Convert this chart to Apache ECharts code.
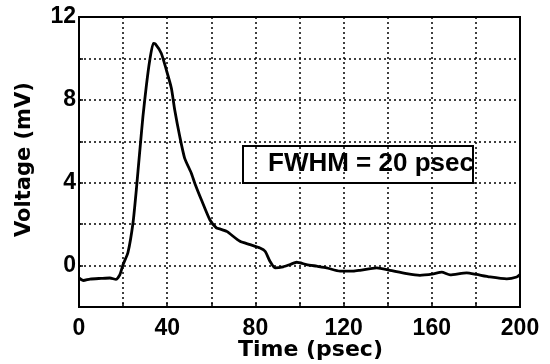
<!DOCTYPE html>
<html>
<head>
<meta charset="utf-8">
<script src="https://cdn.jsdelivr.net/npm/echarts@6/dist/echarts.min.js"></script>
<style>
  html, body { margin: 0; padding: 0; background: #fff; }
  #chart { width: 550px; height: 364px; }
</style>
</head>
<body>
<div id="chart"></div>
<script>
// 数据：时间 (psec) 与电压 (mV)
var timePs = [0, 2, 5, 10, 14, 16.8, 18.5, 20, 22.2, 24.5, 26, 27.5, 29, 30.5, 32, 33.7, 34.6,
  37.3, 39.6, 41.9, 43.4, 45.7, 47.9, 50.9, 52.5, 55.5, 59.4, 62.3, 63.9, 67, 73, 77.6, 82.1,
  84.4, 86.6, 88.9, 92.6, 95.7, 98.7, 103.2, 107.8, 112.3, 118.4, 124.4, 127.4, 135, 141,
  148.6, 154.6, 160.7, 164.5, 168.3, 175.8, 180.3, 186.4, 194, 198.5, 200];
var voltageMv = [-0.6, -0.72, -0.65, -0.62, -0.6, -0.67, -0.45, 0.05, 0.63, 2.07, 3.66, 5.45,
  7.2, 8.64, 9.85, 10.73, 10.7, 10.25, 9.45, 8.56, 7.52, 6.23, 5.19, 4.47, 3.98, 3.18, 2.2,
  1.82, 1.77, 1.65, 1.17, 1.01, 0.85, 0.69, 0.21, -0.11, -0.06, 0.05, 0.16, 0.05, -0.03,
  -0.11, -0.27, -0.27, -0.23, -0.11, -0.23, -0.39, -0.47, -0.4, -0.32, -0.45, -0.35, -0.43,
  -0.55, -0.64, -0.55, -0.43];
var xTickLabels = [0, 40, 80, 120, 160, 200];
var yTickLabels = [0, 4, 8, 12];
var noteText = 'FWHM = 20 psec';

var seriesData = timePs.map(function (t, i) { return [t, voltageMv[i]]; });

var myChart = echarts.init(document.getElementById('chart'));

var tickFont = { color: '#000', fontFamily: 'Liberation Sans', fontWeight: 'bold', fontSize: 23 };
var gridLine = { show: true, lineStyle: { color: '#000', width: 1.5, type: [2, 3] } };

var option = {
    animation: false,
    grid: {
        left: 79, right: 30, top: 17, bottom: 57,
        show: true, borderColor: '#000', borderWidth: 2, backgroundColor: '#fff'
    },
    xAxis: {
        type: 'value', min: 0, max: 200, interval: 20,
        axisLine: { show: true, onZero: false, lineStyle: { color: '#000', width: 2 } },
        axisTick: { show: true, inside: true, length: 4, lineStyle: { color: '#000', width: 1.5 } },
        axisLabel: Object.assign({
            margin: 10,
            formatter: function (v) { return xTickLabels.indexOf(v) >= 0 ? String(v) : ''; }
        }, tickFont),
        splitLine: gridLine
    },
    yAxis: {
        type: 'value', min: -2, max: 12, interval: 2,
        axisLine: { show: true, onZero: false, lineStyle: { color: '#000', width: 2 } },
        axisTick: { show: true, inside: true, length: 4, lineStyle: { color: '#000', width: 1.5 } },
        axisLabel: Object.assign({
            margin: 3,
            formatter: function (v) { return yTickLabels.indexOf(v) >= 0 ? String(v) : ''; }
        }, tickFont),
        splitLine: gridLine
    },
    graphic: [
        {
            type: 'text', left: 238, top: 339,
            style: { text: 'Time (psec)', fill: '#000', font: 'bold 22px "DejaVu Sans"' }
        },
        {
            type: 'text', x: 14, y: 237, rotation: Math.PI / 2,
            style: { text: 'Voltage (mV)', fill: '#000', font: 'bold 21px "DejaVu Sans"',
                     textVerticalAlign: 'top' },
            originX: 0, originY: 0
        },
        {
            type: 'group', z: 100,
            children: [
                { type: 'rect', shape: { x: 243, y: 146, width: 230, height: 37 },
                  style: { fill: '#fff', stroke: 'none' } },
                { type: 'text', x: 268, y: 151,
                  style: { text: noteText, fill: '#000', font: 'bold 26px "Liberation Sans"' } },
                { type: 'rect', shape: { x: 243, y: 146, width: 230, height: 37 },
                  style: { fill: 'none', stroke: '#000', lineWidth: 2 } }
            ]
        }
    ],
    series: [{
        type: 'line',
        data: seriesData,
        showSymbol: false,
        smooth: 0.2,
        lineStyle: { color: '#000', width: 2.8 }
    }]
};

myChart.setOption(option);
</script>
</body>
</html>
